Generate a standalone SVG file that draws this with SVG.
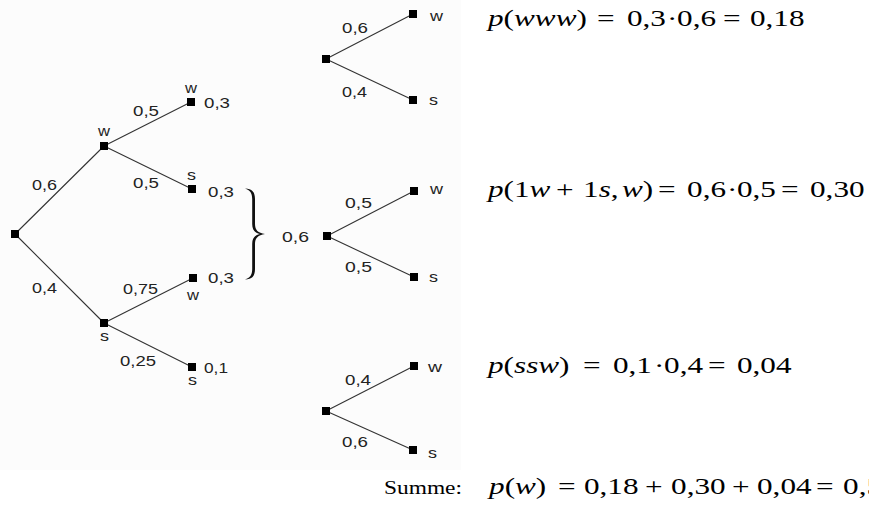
<svg xmlns="http://www.w3.org/2000/svg" width="869" height="510" viewBox="0 0 869 510">
<style>
.n{fill:#000}
.e{stroke:#333;stroke-width:1.1;fill:none}
.l{font-family:"Liberation Sans",Arial,sans-serif;font-size:15px;fill:#222}
.f{font-family:"Liberation Serif","Times New Roman",serif;font-size:24px;fill:#000}
.i{font-style:italic}
</style>
<rect x="0" y="0" width="869" height="510" fill="#fff"/>
<rect x="0" y="0" width="461" height="470" fill="#fcfcfc"/>
<g id="connectors">
<path class="e" d="M15,234 L104,146 M15,234 L104,323 M104,146 L191,102 M104,146 L192,189 M104,323 L193,278 M104,323 L192,367"/>
<path class="e" d="M326,59 L413,14 M326,59 L413,100 M327,236 L414,191 M327,236 L414,277 M326,411 L414,366 M326,411 L413,450"/>
</g>
<g id="root"><rect class="n" x="11" y="230" width="8" height="8"/></g>
<g id="node-w"><rect class="n" x="100" y="142" width="8" height="8"/><text class="l" x="98" y="136" textLength="12" lengthAdjust="spacingAndGlyphs">w</text></g>
<g id="node-s"><rect class="n" x="100" y="319" width="8" height="8"/><text class="l" x="100" y="341" textLength="9" lengthAdjust="spacingAndGlyphs">s</text></g>
<g id="leaf-ww"><rect class="n" x="187" y="98" width="8" height="8"/><text class="l" x="185" y="93" textLength="12" lengthAdjust="spacingAndGlyphs">w</text><text class="l" x="204" y="108" textLength="26" lengthAdjust="spacingAndGlyphs">0,3</text></g>
<g id="leaf-ws"><rect class="n" x="188" y="185" width="8" height="8"/><text class="l" x="187" y="180" textLength="9" lengthAdjust="spacingAndGlyphs">s</text><text class="l" x="208" y="197" textLength="26" lengthAdjust="spacingAndGlyphs">0,3</text></g>
<g id="leaf-sw"><rect class="n" x="189" y="274" width="8" height="8"/><text class="l" x="187" y="300" textLength="12" lengthAdjust="spacingAndGlyphs">w</text><text class="l" x="208" y="283" textLength="26" lengthAdjust="spacingAndGlyphs">0,3</text></g>
<g id="leaf-ss"><rect class="n" x="188" y="363" width="8" height="8"/><text class="l" x="188" y="385" textLength="9" lengthAdjust="spacingAndGlyphs">s</text><text class="l" x="204" y="373" textLength="24" lengthAdjust="spacingAndGlyphs">0,1</text></g>
<g id="edge-labels">
<text class="l" x="32" y="190" textLength="25" lengthAdjust="spacingAndGlyphs">0,6</text>
<text class="l" x="32" y="293" textLength="25" lengthAdjust="spacingAndGlyphs">0,4</text>
<text class="l" x="133" y="116" textLength="26" lengthAdjust="spacingAndGlyphs">0,5</text>
<text class="l" x="133" y="188" textLength="26" lengthAdjust="spacingAndGlyphs">0,5</text>
<text class="l" x="123" y="294" textLength="35" lengthAdjust="spacingAndGlyphs">0,75</text>
<text class="l" x="120" y="366" textLength="36" lengthAdjust="spacingAndGlyphs">0,25</text>
</g>
<g id="brace"><path d="M245,188.5 C252,188.5 255,192 255,199 L255,224 C255,230 258,233 265,234 C258,235 255,238 255,244 L255,269 C255,276 252,279.5 245,279.5 C250,278 252.2,275 252.2,269 L252.2,244 C252.2,238 255,235 260,234 C255,233 252.2,230 252.2,224 L252.2,199 C252.2,193 250,190 245,188.5 Z" fill="#111"/></g>
<g id="tree-top">
<rect class="n" x="322" y="55" width="8" height="8"/>
<rect class="n" x="409" y="10" width="8" height="8"/>
<rect class="n" x="409" y="96" width="8" height="8"/>
<text class="l" x="342" y="33" textLength="26" lengthAdjust="spacingAndGlyphs">0,6</text>
<text class="l" x="342" y="97" textLength="25" lengthAdjust="spacingAndGlyphs">0,4</text>
<text class="l" x="430" y="21" textLength="13" lengthAdjust="spacingAndGlyphs">w</text>
<text class="l" x="429" y="105" textLength="9" lengthAdjust="spacingAndGlyphs">s</text>
</g>
<g id="tree-middle">
<text class="l" x="282" y="242" textLength="27" lengthAdjust="spacingAndGlyphs">0,6</text>
<rect class="n" x="323" y="232" width="8" height="8"/>
<rect class="n" x="410" y="187" width="8" height="8"/>
<rect class="n" x="410" y="273" width="8" height="8"/>
<text class="l" x="345" y="208" textLength="27" lengthAdjust="spacingAndGlyphs">0,5</text>
<text class="l" x="345" y="272" textLength="27" lengthAdjust="spacingAndGlyphs">0,5</text>
<text class="l" x="430" y="194" textLength="13" lengthAdjust="spacingAndGlyphs">w</text>
<text class="l" x="429" y="282" textLength="9" lengthAdjust="spacingAndGlyphs">s</text>
</g>
<g id="tree-bottom">
<rect class="n" x="322" y="407" width="8" height="8"/>
<rect class="n" x="410" y="362" width="8" height="8"/>
<rect class="n" x="409" y="446" width="8" height="8"/>
<text class="l" x="345" y="385" textLength="26" lengthAdjust="spacingAndGlyphs">0,4</text>
<text class="l" x="342" y="447" textLength="26" lengthAdjust="spacingAndGlyphs">0,6</text>
<text class="l" x="428" y="372" textLength="14" lengthAdjust="spacingAndGlyphs">w</text>
<text class="l" x="428" y="458" textLength="9" lengthAdjust="spacingAndGlyphs">s</text>
</g>
<g id="formula-1" transform="translate(0,26) scale(1.3,1)">
<text class="f"><tspan x="375.4" class="i">p</tspan><tspan>(</tspan><tspan class="i">www</tspan><tspan>)</tspan><tspan x="459.2">=</tspan><tspan x="482.3">0,3</tspan><tspan x="513.1">·</tspan><tspan x="520.8">0,6</tspan><tspan x="556.2">=</tspan><tspan x="576.9">0,18</tspan></text>
</g>
<g id="formula-2" transform="translate(0,197) scale(1.3,1)">
<text class="f"><tspan x="375.4" class="i">p</tspan><tspan>(1</tspan><tspan class="i">w</tspan><tspan x="427.7">+</tspan><tspan x="448.5">1</tspan><tspan class="i">s</tspan><tspan>,</tspan><tspan x="478.5" class="i">w</tspan><tspan>)</tspan><tspan x="506.2">=</tspan><tspan x="528.5">0,6</tspan><tspan x="559.2">·</tspan><tspan x="566.9">0,5</tspan><tspan x="600.8">=</tspan><tspan x="623.1">0,30</tspan></text>
</g>
<g id="formula-3" transform="translate(0,373) scale(1.3,1)">
<text class="f"><tspan x="375.4" class="i">p</tspan><tspan>(</tspan><tspan class="i">ssw</tspan><tspan>)</tspan><tspan x="448.5">=</tspan><tspan x="471.5">0,1</tspan><tspan x="503.1">·</tspan><tspan x="510.8">0,4</tspan><tspan x="544.6">=</tspan><tspan x="566.9">0,04</tspan></text>
</g>
<g id="summe">
<text class="f" x="384" y="494" textLength="78" lengthAdjust="spacingAndGlyphs" style="font-size:18px">Summe:</text>
</g>
<g id="formula-4" transform="translate(0,494) scale(1.3,1)">
<text class="f"><tspan x="376.2" class="i">p</tspan><tspan>(</tspan><tspan class="i">w</tspan><tspan>)</tspan><tspan x="429.2">=</tspan><tspan x="449.2">0,18</tspan><tspan x="496.2">+</tspan><tspan x="516.2">0,30</tspan><tspan x="563">+</tspan><tspan x="582.3">0,04</tspan><tspan x="627.7">=</tspan><tspan x="648.5">0,52</tspan></text>
</g>
</svg>
